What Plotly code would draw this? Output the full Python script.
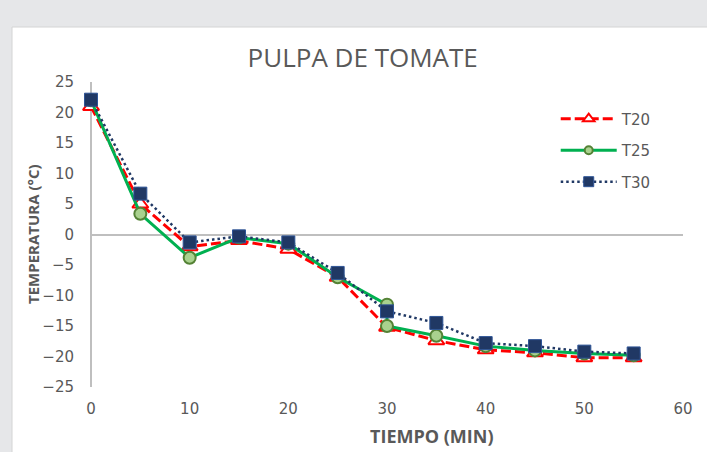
import plotly.graph_objects as go

# Cooling curves of tomato pulp at three temperature settings
tiempo_t20 = [0, 5, 10, 15, 20, 25, 30, 35, 40, 45, 50, 55]
temp_t20 = [21.0, 5.0, -2.0, -1.0, -2.4, -7.0, -15.2, -17.4, -18.9, -19.4, -20.2, -20.2]

tiempo_t25 = [0, 5, 10, 15, 20, 25, 30, 30, 35, 40, 45, 50, 55]
temp_t25 = [22.0, 3.4, -3.8, -0.5, -1.5, -7.0, -11.5, -15.0, -16.6, -18.3, -19.0, -19.5, -19.8]

tiempo_t30 = [0, 5, 10, 15, 20, 25, 30, 35, 40, 45, 50, 55]
temp_t30 = [22.1, 6.7, -1.3, -0.3, -1.3, -6.3, -12.6, -14.5, -17.8, -18.3, -19.2, -19.5]

x_ticks = [0, 10, 20, 30, 40, 50, 60]
y_ticks = [25, 20, 15, 10, 5, 0, -5, -10, -15, -20, -25]

GRAY_TEXT = "#595959"
FONT = "Open Sans, Liberation Sans, sans-serif"
WIDE = "'DejaVu Sans', 'Open Sans', sans-serif"

series = [
    dict(name="T20", x=tiempo_t20, y=temp_t20,
         line=dict(color="#ff0000", width=3, dash="10px,4px"),
         symbol="triangle-up", size=14, legend_size=10, fill="white",
         edge="#ff0000", edge_w=2),
    dict(name="T25", x=tiempo_t25, y=temp_t25,
         line=dict(color="#00b050", width=3),
         symbol="circle", size=12, legend_size=8, fill="#a9d18e",
         edge="#548235", edge_w=2),
    dict(name="T30", x=tiempo_t30, y=temp_t30,
         line=dict(color="#203864", width=2.5, dash="2.5px,3px"),
         symbol="square", size=13, legend_size=10, fill="#203864",
         edge="#2f5597", edge_w=1),
]

fig = go.Figure()
for s in series:
    fig.add_trace(go.Scatter(
        x=s["x"], y=s["y"], name=s["name"], mode="lines+markers",
        line=s["line"],
        marker=dict(symbol=s["symbol"], size=s["size"], color=s["fill"],
                    line=dict(color=s["edge"], width=s["edge_w"])),
        cliponaxis=False, showlegend=False, legendgroup=s["name"],
    ))
# legend entries with the smaller key markers
for s in series:
    fig.add_trace(go.Scatter(
        x=[None], y=[None], name=s["name"], mode="lines+markers",
        line=s["line"],
        marker=dict(symbol=s["symbol"], size=s["legend_size"], color=s["fill"],
                    line=dict(color=s["edge"], width=s["edge_w"])),
        showlegend=True, legendgroup=s["name"],
    ))

fig.update_layout(
    width=707, height=452,
    margin=dict(l=91, r=24, t=82, b=65),
    paper_bgcolor="#e6e7e9",
    plot_bgcolor="white",
    font=dict(family=FONT, color=GRAY_TEXT, size=13),
    title=dict(text="PULPA DE TOMATE", x=0.513, xanchor="center",
               y=1 - 58 / 452, yanchor="middle",
               font=dict(size=26, color=GRAY_TEXT, family=FONT)),
    showlegend=True,
    legend=dict(x=0.785, y=0.933, xanchor="left", yanchor="top",
                bgcolor="rgba(0,0,0,0)", itemwidth=56,
                tracegroupgap=9,
                font=dict(size=15, color=GRAY_TEXT, family=WIDE)),
    xaxis=dict(range=[0, 60], tickvals=x_ticks, showgrid=False,
               zeroline=True, zerolinecolor="#bfbfbf", zerolinewidth=1.5,
               showline=False, ticks="", ticklabelstandoff=11,
               tickfont=dict(size=15, color=GRAY_TEXT, family=WIDE)),
    yaxis=dict(range=[-25, 25], tickvals=y_ticks, showgrid=False,
               zeroline=True, zerolinecolor="#bfbfbf", zerolinewidth=1.5,
               showline=False, ticks="", ticklabelstandoff=16,
               tickfont=dict(size=15, color=GRAY_TEXT, family=WIDE)),
    shapes=[dict(type="rect", xref="paper", yref="paper",
                 x0=(12 - 91) / 592, x1=1.1, y0=-0.3, y1=(387 - 27) / 305,
                 fillcolor="white", line=dict(color="#d4d4d4", width=1),
                 layer="below")],
    annotations=[
        dict(text="<b>TIEMPO (MIN)</b>", xref="paper", yref="paper",
             x=(432 - 91) / 592, y=(387 - 436) / 305, showarrow=False,
             xanchor="center", yanchor="middle",
             font=dict(size=18, color=GRAY_TEXT, family=FONT)),
        dict(text="<b>TEMPERATURA (°C)</b>", xref="paper", yref="paper",
             x=(33 - 91) / 592, y=(387 - 234) / 305, showarrow=False,
             textangle=-90, xanchor="center", yanchor="middle",
             font=dict(size=15, color=GRAY_TEXT, family=FONT)),
    ],
)

fig.write_html("out.html")
